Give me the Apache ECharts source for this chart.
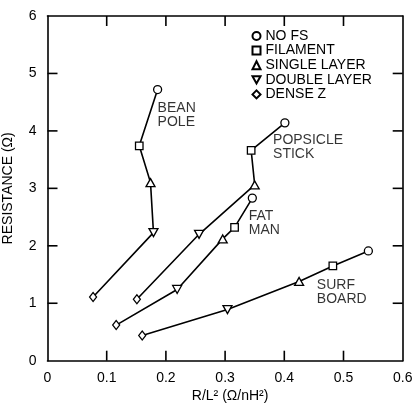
<!DOCTYPE html>
<html>
<head>
<meta charset="utf-8">
<script src="https://cdn.jsdelivr.net/npm/echarts@6/dist/echarts.min.js"></script>
<style>
html,body{margin:0;padding:0;background:#fff;}
#c{width:416px;height:409px;}
</style>
</head>
<body>
<div id="c"></div>
<script>
// Marker types (legend), in the order points are joined along each curve
const markerNames = ['NO FS', 'FILAMENT', 'SINGLE LAYER', 'DOUBLE LAYER', 'DENSE Z'];

// Curves: x = R/L^2 (ohm/nH^2), y = resistance (ohm), one value per marker type
const beanPoleX = [0.186, 0.155, 0.174, 0.179, 0.077];
const beanPoleY = [4.72, 3.74, 3.10, 2.23, 1.11];
const popsicleX = [0.401, 0.344, 0.350, 0.256, 0.151];
const popsicleY = [4.14, 3.66, 3.06, 2.20, 1.07];
const fatManX   = [0.346, 0.316, 0.296, 0.219, 0.116];
const fatManY   = [2.83, 2.32, 2.12, 1.24, 0.62];
const surfX     = [0.542, 0.482, 0.425, 0.304, 0.160];
const surfY     = [1.91, 1.65, 1.38, 0.89, 0.44];

// Curve names and where their labels sit (data coordinates of the label's left-middle)
const curveNames  = ['BEAN\nPOLE', 'POPSICLE\nSTICK', 'FAT\nMAN', 'SURF\nBOARD'];
const curveLabelX = [0.186, 0.381, 0.340, 0.455];
const curveLabelY = [4.27, 3.71, 2.39, 1.20];

// Axis ticks
const xTicks = [0, 0.1, 0.2, 0.3, 0.4, 0.5, 0.6];
const yTicks = [0, 1, 2, 3, 4, 5, 6];

const FONT = '"Liberation Sans", Arial, Helvetica, sans-serif';
const TICK_LEN = 10;
const curves = [
  [beanPoleX, beanPoleY],
  [popsicleX, popsicleY],
  [fatManX, fatManY],
  [surfX, surfY]
];
const symbols = ['circle', 'rect', 'triangle', 'path://M0,0 L10,0 L5,9 Z', 'diamond'];
const sizes = [8, 7.5, [9, 8], [9, 8], [7, 9]];
const xMin = xTicks[0], xMax = xTicks[xTicks.length - 1];
const yMin = yTicks[0], yMax = yTicks[yTicks.length - 1];

const series = [];
curves.forEach(function (c, k) {
  series.push({
    type: 'line',
    name: 'curve' + k,
    data: c[0].map(function (x, i) { return [x, c[1][i]]; }),
    showSymbol: false,
    symbol: 'none',
    lineStyle: { color: '#000', width: 1.6 },
    silent: true
  });
});
markerNames.forEach(function (m, i) {
  series.push({
    type: 'scatter',
    name: m,
    symbol: symbols[i],
    symbolSize: sizes[i],
    data: curves.map(function (c) { return [c[0][i], c[1][i]]; }),
    itemStyle: { color: '#fff', borderColor: '#000', borderWidth: 1.3, opacity: 1 },
    z: 3
  });
});
series.push({
  type: 'scatter',
  name: 'labels',
  symbolSize: 0,
  data: curveNames.map(function (n, i) { return { value: [curveLabelX[i], curveLabelY[i]], name: n }; }),
  label: {
    show: true,
    position: 'inside',
    align: 'left',
    verticalAlign: 'middle',
    formatter: function (p) { return p.name; },
    color: '#000',
    textBorderWidth: 0,
    textBorderColor: 'transparent',
    fontFamily: FONT,
    fontSize: 14,
    lineHeight: 14
  },
  silent: true
});

// Inward tick marks on all four sides, placed through the axis scales
const tickStyle = { stroke: '#000', lineWidth: 1.6 };
series.push({
  type: 'custom',
  name: 'xTickMarks',
  silent: true,
  clip: false,
  z: 5,
  data: xTicks.slice(1, -1).map(function (v) { return [v, yMin]; }),
  encode: { x: 0, y: 1 },
  renderItem: function (params, api) {
    const v = api.value(0);
    const b = api.coord([v, yMin]);
    const t = api.coord([v, yMax]);
    return {
      type: 'group',
      children: [
        { type: 'line', shape: { x1: b[0], y1: b[1], x2: b[0], y2: b[1] - TICK_LEN }, style: tickStyle },
        { type: 'line', shape: { x1: t[0], y1: t[1], x2: t[0], y2: t[1] + TICK_LEN }, style: tickStyle }
      ]
    };
  }
});
series.push({
  type: 'custom',
  name: 'yTickMarks',
  silent: true,
  clip: false,
  z: 5,
  data: yTicks.slice(1, -1).map(function (v) { return [xMin, v]; }),
  encode: { x: 0, y: 1 },
  renderItem: function (params, api) {
    const v = api.value(1);
    const l = api.coord([xMin, v]);
    const r = api.coord([xMax, v]);
    return {
      type: 'group',
      children: [
        { type: 'line', shape: { x1: l[0], y1: l[1], x2: l[0] + TICK_LEN, y2: l[1] }, style: tickStyle },
        { type: 'line', shape: { x1: r[0], y1: r[1], x2: r[0] - TICK_LEN, y2: r[1] }, style: tickStyle }
      ]
    };
  }
});

const chart = echarts.init(document.getElementById('c'));
chart.setOption({
  animation: false,
  grid: { left: 47.5, right: 13.3, top: 16, bottom: 48.3, outerBoundsMode: 'none' },
  legend: {
    orient: 'vertical',
    left: 251.5,
    top: 29,
    padding: 0,
    itemWidth: 8,
    itemHeight: 8,
    itemGap: 0.6,
    data: markerNames,
    selectedMode: false,
    textStyle: { color: '#000', fontFamily: FONT, fontSize: 14, lineHeight: 14 }
  },
  xAxis: [
    { type: 'value', min: xMin, max: xMax, interval: 0.1, position: 'bottom',
      name: 'R/L² (Ω/nH²)', nameLocation: 'middle', nameGap: 21,
      nameTextStyle: { color: '#000', fontFamily: FONT, fontSize: 14, padding: [0, 0, 0, 10] },
      axisLine: { show: true, onZero: false, lineStyle: { color: '#000', width: 1.6 } },
      axisTick: { show: false },
      axisLabel: {
        show: true, color: '#000', fontFamily: FONT, fontSize: 14, margin: 10,
        formatter: function (v) { const t = xTicks.find(function (q) { return Math.abs(q - v) < 1e-9; }); return t === undefined ? '' : String(t); }
      },
      splitLine: { show: false } },
    { type: 'value', min: xMin, max: xMax, interval: 0.1, position: 'top',
      axisLine: { show: true, onZero: false, lineStyle: { color: '#000', width: 1.6 } },
      axisTick: { show: false },
      axisLabel: { show: false },
      splitLine: { show: false } }
  ],
  yAxis: [
    { type: 'value', min: yMin, max: yMax, interval: 1, position: 'left',
      name: 'RESISTANCE (Ω)', nameLocation: 'middle', nameGap: 32, nameRotate: 90,
      nameTextStyle: { color: '#000', fontFamily: FONT, fontSize: 14 },
      axisLine: { show: true, onZero: false, lineStyle: { color: '#000', width: 1.6 } },
      axisTick: { show: false },
      axisLabel: { show: true, color: '#000', fontFamily: FONT, fontSize: 14, margin: 11 },
      splitLine: { show: false } },
    { type: 'value', min: yMin, max: yMax, interval: 1, position: 'right',
      axisLine: { show: true, onZero: false, lineStyle: { color: '#000', width: 1.6 } },
      axisTick: { show: false },
      axisLabel: { show: false },
      splitLine: { show: false } }
  ],
  series: series
});
</script>
</body>
</html>
